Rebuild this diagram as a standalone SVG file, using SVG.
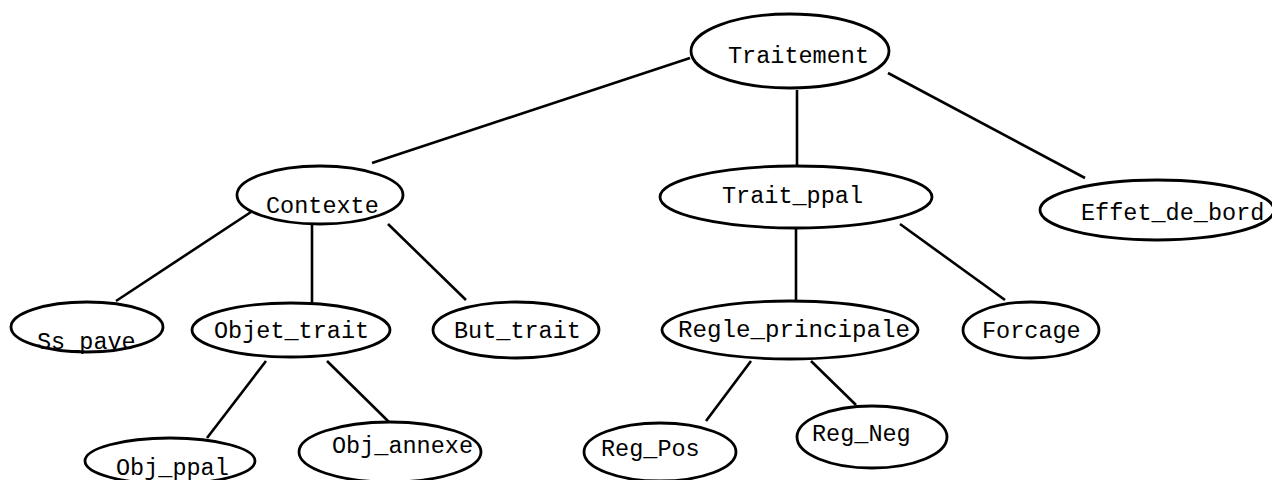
<svg xmlns="http://www.w3.org/2000/svg" width="1272" height="480" viewBox="0 0 1272 480">
<style>
.n ellipse{fill:#fff;stroke:#000;stroke-width:2.8}
.n text{font-family:"Liberation Mono","DejaVu Sans Mono",monospace;font-size:23.5px;fill:#000}
.e line{stroke:#000;stroke-width:2.6}
</style>
<rect width="1272" height="480" fill="#fff"/>
<g class="e" id="connectors">
<line x1="690" y1="58" x2="372" y2="163"/>
<line x1="797" y1="90" x2="797" y2="165"/>
<line x1="888" y1="73" x2="1085" y2="178"/>
<line x1="251" y1="212" x2="116" y2="301"/>
<line x1="312" y1="223" x2="312" y2="303"/>
<line x1="388" y1="224" x2="466" y2="300"/>
<line x1="796" y1="226" x2="796" y2="300"/>
<line x1="900" y1="224" x2="1005" y2="300"/>
<line x1="266" y1="361" x2="207" y2="438"/>
<line x1="327" y1="361" x2="389" y2="422"/>
<line x1="751" y1="361" x2="706" y2="421"/>
<line x1="811" y1="361" x2="856" y2="405"/>
</g>
<g class="n" id="traitement"><ellipse cx="790" cy="51" rx="99" ry="37"/><text x="728" y="63">Traitement</text></g>
<g class="n" id="contexte"><ellipse cx="320" cy="195" rx="83" ry="29"/><text x="266" y="213">Contexte</text></g>
<g class="n" id="trait_ppal"><ellipse cx="796" cy="197" rx="136" ry="31"/><text x="722" y="203">Trait_ppal</text></g>
<g class="n" id="effet_de_bord"><ellipse cx="1157" cy="210" rx="117" ry="30"/><text x="1081" y="220">Effet_de_bord</text></g>
<g class="n" id="ss_pave"><ellipse cx="87" cy="327" rx="76" ry="25"/><text x="37" y="349">Ss_pave</text></g>
<g class="n" id="objet_trait"><ellipse cx="291" cy="330" rx="99" ry="27"/><text x="214" y="338">Objet_trait</text></g>
<g class="n" id="but_trait"><ellipse cx="516" cy="330" rx="83" ry="28"/><text x="454" y="338">But_trait</text></g>
<g class="n" id="regle_principale"><ellipse cx="790" cy="330" rx="128" ry="29"/><text x="678" y="337" textLength="232" lengthAdjust="spacingAndGlyphs">Regle_principale</text></g>
<g class="n" id="forcage"><ellipse cx="1031" cy="330" rx="68" ry="28"/><text x="982" y="338">Forcage</text></g>
<g class="n" id="obj_ppal"><ellipse cx="170" cy="461" rx="85" ry="23"/><text x="116" y="475">Obj_ppal</text></g>
<g class="n" id="obj_annexe"><ellipse cx="390" cy="452" rx="91" ry="30"/><text x="332" y="453">Obj_annexe</text></g>
<g class="n" id="reg_pos"><ellipse cx="660" cy="452" rx="76" ry="29"/><text x="601" y="456">Reg_Pos</text></g>
<g class="n" id="reg_neg"><ellipse cx="872" cy="437" rx="75" ry="31"/><text x="812" y="441">Reg_Neg</text></g>
</svg>
